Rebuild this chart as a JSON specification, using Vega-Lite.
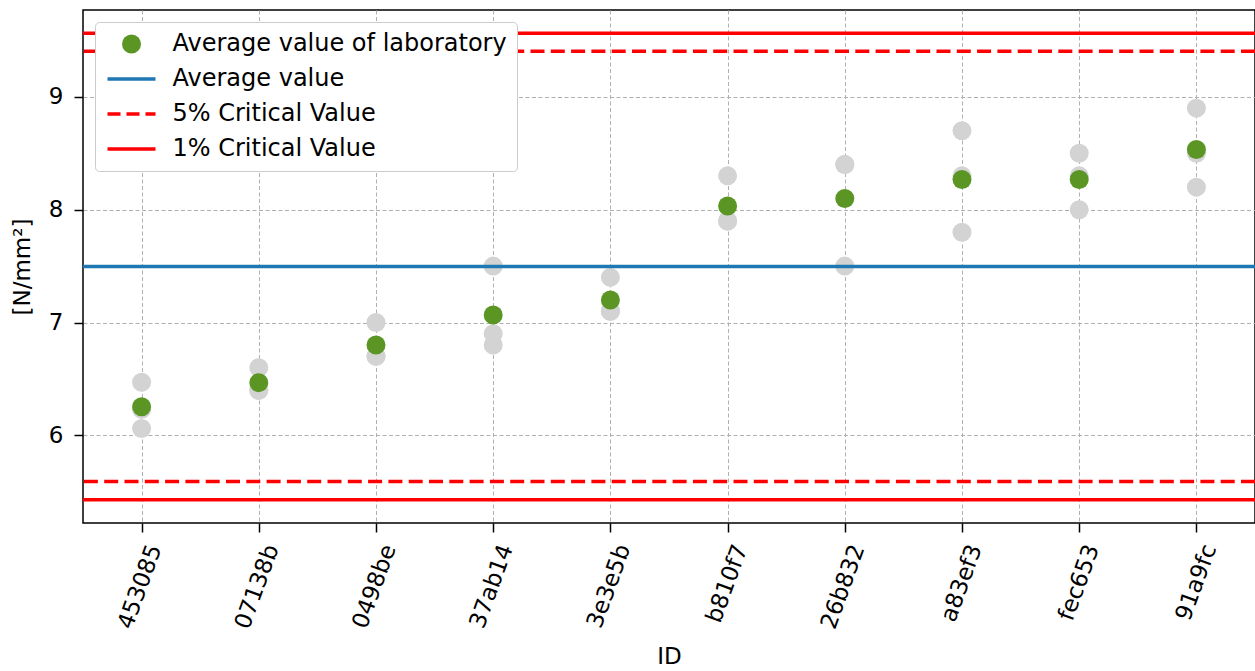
{
  "$schema": "https://vega.github.io/schema/vega-lite/v6.json",
  "width": 1172,
  "height": 513,
  "autosize": {"type": "none"},
  "padding": {"left": 83, "top": 10, "right": 0, "bottom": 148},
  "config": {
    "view": {"stroke": "black", "strokeWidth": 1.5},
    "font": "DejaVu Sans",
    "axis": {
      "labelFont": "DejaVu Sans",
      "titleFont": "DejaVu Sans",
      "labelFontSize": 23,
      "titleFontSize": 23,
      "titleFontWeight": "normal",
      "labelColor": "black",
      "titleColor": "black",
      "domain": false,
      "tickColor": "black",
      "tickWidth": 1.5,
      "tickSize": 9,
      "grid": true,
      "gridColor": "#b0b0b0",
      "gridDash": [4, 2.5],
      "gridWidth": 1
    }
  },
  "datasets": {
    "obs": [
      {"id": "453085", "value": 6.47}, {"id": "453085", "value": 6.23}, {"id": "453085", "value": 6.06},
      {"id": "07138b", "value": 6.6}, {"id": "07138b", "value": 6.4}, {"id": "07138b", "value": 6.4},
      {"id": "0498be", "value": 7.0}, {"id": "0498be", "value": 6.7}, {"id": "0498be", "value": 6.7},
      {"id": "37ab14", "value": 7.5}, {"id": "37ab14", "value": 6.9}, {"id": "37ab14", "value": 6.8},
      {"id": "3e3e5b", "value": 7.4}, {"id": "3e3e5b", "value": 7.1}, {"id": "3e3e5b", "value": 7.1},
      {"id": "b810f7", "value": 8.3}, {"id": "b810f7", "value": 7.9}, {"id": "b810f7", "value": 7.9},
      {"id": "26b832", "value": 8.4}, {"id": "26b832", "value": 8.4}, {"id": "26b832", "value": 7.5},
      {"id": "a83ef3", "value": 8.7}, {"id": "a83ef3", "value": 8.3}, {"id": "a83ef3", "value": 7.8},
      {"id": "fec653", "value": 8.5}, {"id": "fec653", "value": 8.3}, {"id": "fec653", "value": 8.0},
      {"id": "91a9fc", "value": 8.9}, {"id": "91a9fc", "value": 8.5}, {"id": "91a9fc", "value": 8.2}
    ],
    "avg": [
      {"id": "453085", "value": 6.253},
      {"id": "07138b", "value": 6.467},
      {"id": "0498be", "value": 6.8},
      {"id": "37ab14", "value": 7.067},
      {"id": "3e3e5b", "value": 7.2},
      {"id": "b810f7", "value": 8.033},
      {"id": "26b832", "value": 8.1},
      {"id": "a83ef3", "value": 8.267},
      {"id": "fec653", "value": 8.267},
      {"id": "91a9fc", "value": 8.533}
    ],
    "lines": [
      {"series": "Average value", "value": 7.497},
      {"series": "5% Critical Value", "value": 9.404},
      {"series": "5% Critical Value", "value": 5.59},
      {"series": "1% Critical Value", "value": 9.563},
      {"series": "1% Critical Value", "value": 5.43}
    ]
  },
  "encoding": {
    "x": {
      "field": "id",
      "type": "nominal",
      "sort": null,
      "scale": {"type": "point", "padding": 0.5, "domain": ["453085", "07138b", "0498be", "37ab14", "3e3e5b", "b810f7", "26b832", "a83ef3", "fec653", "91a9fc"]},
      "axis": {"title": "ID", "labelAngle": -70, "labelAlign": "right", "labelBaseline": "middle", "labelPadding": 13, "labelOffset": 13, "titlePadding": 14}
    },
    "y": {
      "field": "value",
      "type": "quantitative",
      "scale": {"domain": [5.223, 9.77], "nice": false, "zero": false},
      "axis": {"title": "[N/mm²]", "values": [6, 7, 8, 9], "labelPadding": 11, "titlePadding": 14}
    }
  },
  "layer": [
    {
      "data": {"name": "obs"},
      "mark": {"type": "circle", "size": 361, "opacity": 1, "color": "#d3d3d3"}
    },
    {
      "data": {"name": "lines"},
      "mark": {"type": "rule", "strokeWidth": 3.5},
      "encoding": {
        "x": null,
        "y": {"field": "value", "type": "quantitative"},
        "color": {
          "field": "series",
          "type": "nominal",
          "scale": {"domain": ["Average value of laboratory", "Average value", "5% Critical Value", "1% Critical Value"], "range": ["#5b9624", "#1f77b4", "#ff0000", "#ff0000"]},
          "legend": {
            "title": null,
            "orient": "none",
            "legendX": 12,
            "legendY": 12,
            "padding": 10,
            "fillColor": "white",
            "strokeColor": "#cccccc",
            "cornerRadius": 4,
            "labelFont": "DejaVu Sans",
            "labelFontSize": 24,
            "labelColor": "black",
            "symbolSize": 361,
            "symbolOffset": 14.5,
            "labelOffset": 29,
            "rowPadding": 11,
            "labelLimit": 600,
            "encode": {
              "symbols": {
                "update": {
                  "shape": {"signal": "datum.value === 'Average value of laboratory' ? 'circle' : 'stroke'"},
                  "size": {"signal": "datum.value === 'Average value of laboratory' ? 361 : 2304"},
                  "fill": {"signal": "datum.value === 'Average value of laboratory' ? '#5b9624' : 'transparent'"},
                  "stroke": {"signal": "datum.value === 'Average value of laboratory' ? 'transparent' : (datum.value === 'Average value' ? '#1f77b4' : '#ff0000')"},
                  "strokeWidth": {"signal": "datum.value === 'Average value of laboratory' ? 0 : 3.5"},
                  "strokeDash": {"signal": "datum.value === '5% Critical Value' ? [13, 6] : [1, 0]"},
                  "opacity": {"value": 1}
                }
              }
            }
          }
        },
        "strokeDash": {
          "condition": {"test": "datum.series === '5% Critical Value'", "value": [14, 6.3]},
          "value": [1, 0]
        }
      }
    },
    {
      "data": {"name": "avg"},
      "mark": {"type": "circle", "size": 361, "opacity": 1},
      "encoding": {
        "color": {"datum": "Average value of laboratory"}
      }
    }
  ]
}
